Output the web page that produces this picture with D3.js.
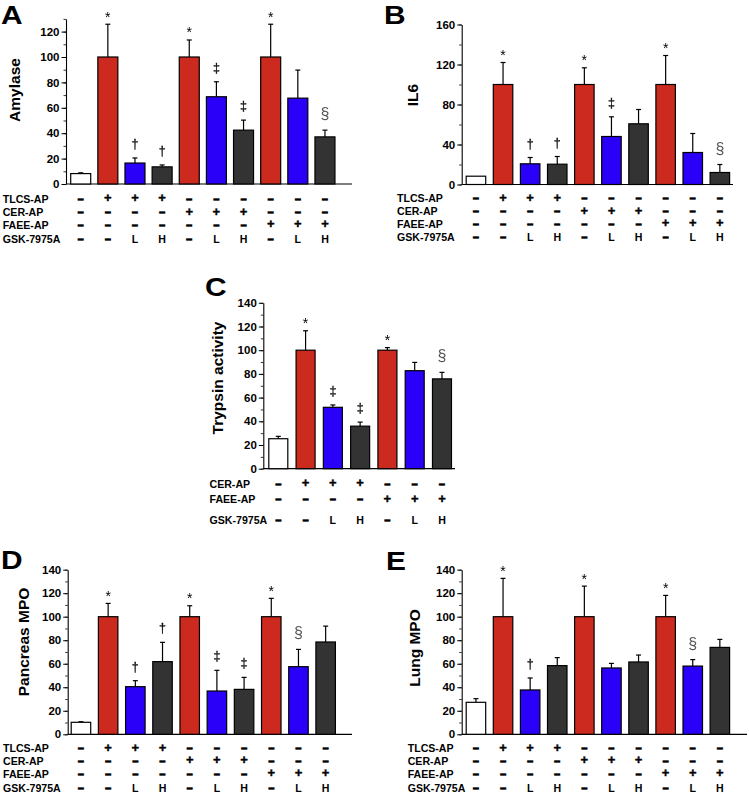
<!DOCTYPE html>
<html><head><meta charset="utf-8">
<script src="https://cdn.jsdelivr.net/npm/d3@7"></script>
<style>
body{margin:0;background:#fff;}
svg{display:block;font-family:"Liberation Sans",Arial,sans-serif;}
.marks{filter:grayscale(1);}
</style></head>
<body><svg id="c" width="749" height="794"></svg>
<script>
// ---------- data ----------
const groupType10 = ["ctrl","ap","L","H","ap","L","H","ap","L","H"];
const groupType7  = ["ctrl","ap","L","H","ap","L","H"];

const amylaseMean = [8.2, 100, 16.5, 13.5, 100, 68.7, 42.4, 100, 67.6, 37.1];
const amylaseErr  = [0.6, 25.8, 4, 1.5, 13.4, 11.8, 7.9, 25.8, 22.1, 5.3];
const amylaseMarks= ["", "*", "†", "†", "*", "‡", "‡", "*", "", "§"];

const il6Mean  = [8.3, 100, 20.7, 20.3, 100, 48, 60.7, 100, 32, 12];
const il6Err   = [0, 22, 6.3, 7.7, 16.7, 19.7, 14.3, 29, 19, 8];
const il6Marks = ["", "*", "†", "†", "*", "‡", "", "*", "", "§"];

const trypsinMean  = [25.3, 100, 51.8, 35.9, 100, 82.7, 75.8];
const trypsinErr   = [2, 16.4, 2, 3.4, 2.2, 7, 5.5];
const trypsinMarks = ["", "*", "‡", "‡", "*", "", "§"];

const pancMpoMean  = [10.2, 100, 40.5, 61.8, 100, 36.8, 38.2, 100, 57.5, 78.5];
const pancMpoErr   = [0.5, 11.3, 5.1, 16.4, 9.3, 17.6, 10.2, 15.6, 14.7, 13.5];
const pancMpoMarks = ["", "*", "†", "†", "*", "‡", "‡", "*", "§", ""];

const lungMpoMean  = [27.2, 100, 37.7, 58.4, 100, 56.4, 61.5, 100, 58, 73.9];
const lungMpoErr   = [3.1, 32.6, 10.2, 6.8, 26, 3.9, 5.9, 18.1, 5.5, 6.8];
const lungMpoMarks = ["", "*", "†", "", "*", "", "", "*", "§", ""];

const rowLabels10 = ["TLCS-AP","CER-AP","FAEE-AP","GSK-7975A"];
const tlcsRow = ["-","+","+","+","-","-","-","-","-","-"];
const cerRow  = ["-","-","-","-","+","+","+","-","-","-"];
const faeeRow = ["-","-","-","-","-","-","-","+","+","+"];
const gskRow  = ["-","-","L","H","-","L","H","-","L","H"];

const rowLabels7 = ["CER-AP","FAEE-AP","GSK-7975A"];
const cerRowC  = ["-","+","+","+","-","-","-"];
const faeeRowC = ["-","-","-","-","+","+","+"];
const gskRowC  = ["-","-","L","H","-","L","H"];

const ticksA = [0,20,40,60,80,100,120];
const ticksB = [0,40,80,120,160];
const ticks140 = [0,20,40,60,80,100,120,140];

// ---------- styles ----------
const colors = {ctrl:"#ffffff", ap:"#cc2a1f", L:"#2a00f8", H:"#333333"};
const svg = d3.select("#c");

function panel(cfg){
  const g = svg.append("g");
  const y = d3.scaleLinear().domain([0, cfg.max]).range([cfg.zeroY, cfg.zeroY - cfg.max*cfg.k]);
  const n = cfg.mean.length;
  const pi = 1 - cfg.bw/cfg.step;
  const x = d3.scaleBand().domain(d3.range(n))
      .range([cfg.firstLeft, cfg.firstLeft + n*cfg.step - pi*cfg.step])
      .paddingInner(pi).paddingOuter(0);

  // minor ticks
  const minor = d3.range(0, cfg.max+0.001, cfg.minorStep);
  g.append("g").attr("transform",`translate(${cfg.axisX},0)`)
    .call(d3.axisLeft(y).tickValues(minor).tickSize(2.5).tickSizeOuter(0).tickFormat(""))
    .call(a=>a.select(".domain").attr("stroke-width",1.1))
    .call(a=>a.selectAll("line").attr("stroke-width",0.8));
  // major ticks
  g.append("g").attr("transform",`translate(${cfg.axisX},0)`)
    .call(d3.axisLeft(y).tickValues(cfg.ticks).tickSize(4.5).tickSizeOuter(0).tickPadding(2).tickFormat(d3.format("d")))
    .call(a=>a.select(".domain").remove())
    .call(a=>a.selectAll("line").attr("stroke-width",1))
    .call(a=>a.selectAll("text").attr("font-size",11.5).attr("font-weight","bold").attr("fill","#000")
      .attr("font-family","'Liberation Sans',Arial,sans-serif"));

  // x axis baseline
  g.append("line").attr("x1",cfg.axisX).attr("x2",cfg.axisRight)
    .attr("y1",y(0)).attr("y2",y(0)).attr("stroke","#000").attr("stroke-width",1.2);

  // error bars
  const eb = g.append("g");
  cfg.mean.forEach((m,i)=>{
    const e = cfg.err[i];
    if(e>0){
      const cx = x(i)+x.bandwidth()/2;
      eb.append("line").attr("x1",cx).attr("x2",cx).attr("y1",y(m)).attr("y2",y(m+e))
        .attr("stroke","#000").attr("stroke-width",1.2);
      eb.append("line").attr("x1",cx-2.5).attr("x2",cx+2.5).attr("y1",y(m+e)).attr("y2",y(m+e))
        .attr("stroke","#000").attr("stroke-width",1.2);
    }
  });
  // bars
  g.append("g").selectAll("rect").data(cfg.mean).join("rect")
    .attr("x",(d,i)=>x(i)).attr("width",x.bandwidth())
    .attr("y",d=>y(d)).attr("height",d=>y(0)-y(d))
    .attr("fill",(d,i)=>colors[cfg.types[i]])
    .attr("stroke","#000").attr("stroke-width",1.2);

  // significance marks
  const markStyle = {"*":{fs:14,off:2.5,fill:"#000",sw:0},"†":{fs:12.5,off:10,fill:"#111",sw:0.3},
                     "‡":{fs:12.5,off:10,fill:"#111",sw:0.3},"§":{fs:16,off:11,fill:"#555",sw:0}};
  const mg = g.append("g").attr("class","marks");
  cfg.marks.forEach((mk,i)=>{
    if(!mk) return;
    const s = markStyle[mk];
    mg.append("text").attr("x",x(i)+x.bandwidth()/2).attr("y",y(cfg.mean[i]+cfg.err[i]) - s.off)
      .attr("text-anchor","middle").attr("font-size",s.fs).attr("fill",s.fill)
      .attr("stroke",s.sw?s.fill:"none").attr("stroke-width",s.sw).text(mk);
  });

  // axis title
  g.append("text").attr("transform",`translate(${cfg.titleX},${cfg.titleY}) rotate(-90)`)
    .attr("text-anchor","middle").attr("dy","0.35em").attr("font-size",15.5).attr("font-weight","bold")
    .text(cfg.title);

  // panel letter
  g.append("text").attr("x",0).attr("y",0)
    .attr("font-size",26).attr("font-weight","bold")
    .attr("transform",`translate(${cfg.letterX},${cfg.letterY}) scale(1.15,1)`)
    .text(cfg.letter);

  // condition table
  cfg.rows.forEach((row,r)=>{
    const by = cfg.rowY[r];
    g.append("text").attr("x",cfg.labelX).attr("y",by).attr("font-size",10.6).attr("font-weight","bold")
      .text(cfg.rowLabels[r]);
    row.forEach((v,i)=>{
      const cx = x(i)+x.bandwidth()/2;
      const t = g.append("text").attr("x",cx).attr("text-anchor","middle").attr("font-weight","bold");
      if(v==="+"){ t.attr("y",by-0.5).attr("font-size",13).attr("stroke","#000").attr("stroke-width",0.4).text("+"); }
      else if(v==="-"){ t.attr("y",by-1).attr("font-size",9.5).attr("stroke","#000").attr("stroke-width",1.4).text("–"); }
      else { t.attr("y",by).attr("font-size",10.6).text(v); }
    });
  });
}

panel({letter:"A",letterX:1,letterY:24,title:"Amylase",titleX:15,titleY:90,
  mean:amylaseMean,err:amylaseErr,marks:amylaseMarks,types:groupType10,
  max:130,k:1.27,zeroY:184,axisX:66,axisRight:352,ticks:ticksA,minorStep:10,
  firstLeft:70.7,step:27.14,bw:20,
  rows:[tlcsRow,cerRow,faeeRow,gskRow],rowLabels:rowLabels10,labelX:2.7,rowY:[202.7,216,228.5,242.7]});

panel({letter:"B",letterX:384,letterY:24,title:"IL6",titleX:413,titleY:95,
  mean:il6Mean,err:il6Err,marks:il6Marks,types:groupType10,
  max:160,k:1.0,zeroY:184.5,axisX:461.7,axisRight:733,ticks:ticksB,minorStep:20,
  firstLeft:466.2,step:27.1,bw:19.5,
  rows:[tlcsRow,cerRow,faeeRow,gskRow],rowLabels:rowLabels10,labelX:397,rowY:[202.3,215,227.5,241]});

panel({letter:"C",letterX:205,letterY:296,title:"Trypsin activity",titleX:218,titleY:378,
  mean:trypsinMean,err:trypsinErr,marks:trypsinMarks,types:groupType7,
  max:140,k:1.185,zeroY:468.7,axisX:263.3,axisRight:455,ticks:ticks140,minorStep:10,
  firstLeft:268.8,step:27.28,bw:19,
  rows:[cerRowC,faeeRowC,gskRowC],rowLabels:rowLabels7,labelX:209.5,rowY:[487.5,503,523.5]});

panel({letter:"D",letterX:1,letterY:569,title:"Pancreas MPO",titleX:24,titleY:642,
  mean:pancMpoMean,err:pancMpoErr,marks:pancMpoMarks,types:groupType10,
  max:140,k:1.176,zeroY:734.3,axisX:67.7,axisRight:352,ticks:ticks140,minorStep:10,
  firstLeft:71.2,step:27.19,bw:19.5,
  rows:[tlcsRow,cerRow,faeeRow,gskRow],rowLabels:rowLabels10,labelX:3,rowY:[752,764.5,777.7,792]});

panel({letter:"E",letterX:386,letterY:570,title:"Lung MPO",titleX:415,titleY:648,
  mean:lungMpoMean,err:lungMpoErr,marks:lungMpoMarks,types:groupType10,
  max:140,k:1.176,zeroY:734.3,axisX:461.7,axisRight:747,ticks:ticks140,minorStep:10,
  firstLeft:466.2,step:27.1,bw:19.5,
  rows:[tlcsRow,cerRow,faeeRow,gskRow],rowLabels:rowLabels10,labelX:407.7,rowY:[752,764.5,777.7,792]});
</script>
</body></html>
